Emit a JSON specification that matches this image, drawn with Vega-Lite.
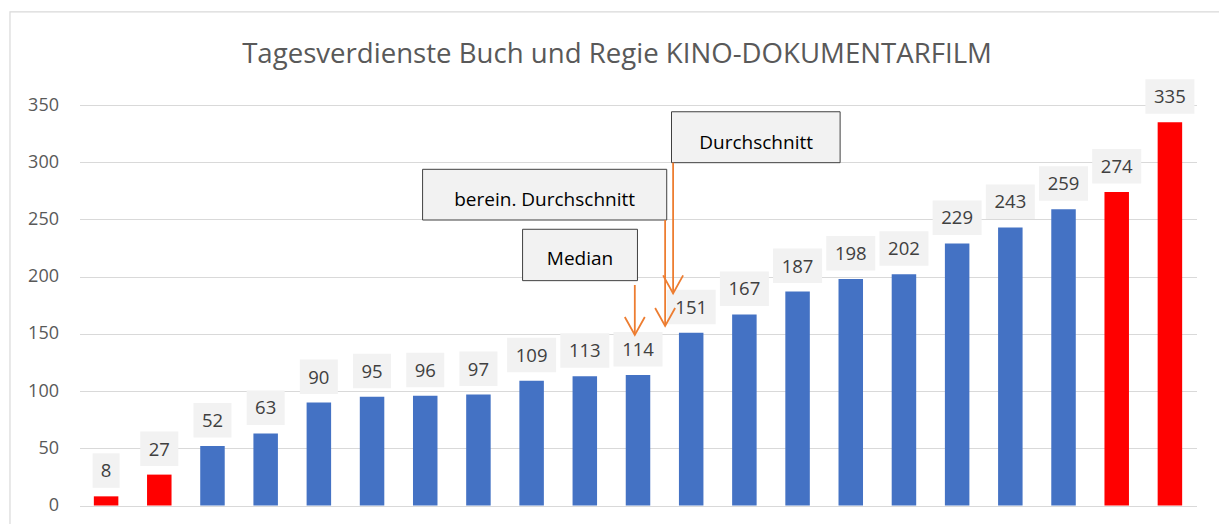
{
  "$schema": "https://vega.github.io/schema/vega-lite/v6.json",
  "width": 1117,
  "height": 400.5,
  "autosize": {"type": "none"},
  "padding": {"left": 79.5, "top": 105, "right": 22.5, "bottom": 18.5},
  "background": "white",
  "config": {"view": {"stroke": null}, "font": "Open Sans"},
  "title": {
    "text": "Tagesverdienste Buch und Regie KINO-DOKUMENTARFILM",
    "font": "Open Sans",
    "fontSize": 27.6,
    "fontWeight": "normal",
    "color": "#595959",
    "anchor": "middle",
    "dx": -21,
    "offset": -79,
    "baseline": "alphabetic"
  },
  "datasets": {
    "werte": [
      {"nr": 1, "tagesverdienst": 8, "gruppe": "Ausreißer"},
      {"nr": 2, "tagesverdienst": 27, "gruppe": "Ausreißer"},
      {"nr": 3, "tagesverdienst": 52, "gruppe": "regulär"},
      {"nr": 4, "tagesverdienst": 63, "gruppe": "regulär"},
      {"nr": 5, "tagesverdienst": 90, "gruppe": "regulär"},
      {"nr": 6, "tagesverdienst": 95, "gruppe": "regulär"},
      {"nr": 7, "tagesverdienst": 96, "gruppe": "regulär"},
      {"nr": 8, "tagesverdienst": 97, "gruppe": "regulär"},
      {"nr": 9, "tagesverdienst": 109, "gruppe": "regulär"},
      {"nr": 10, "tagesverdienst": 113, "gruppe": "regulär"},
      {"nr": 11, "tagesverdienst": 114, "gruppe": "regulär"},
      {"nr": 12, "tagesverdienst": 151, "gruppe": "regulär"},
      {"nr": 13, "tagesverdienst": 167, "gruppe": "regulär"},
      {"nr": 14, "tagesverdienst": 187, "gruppe": "regulär"},
      {"nr": 15, "tagesverdienst": 198, "gruppe": "regulär"},
      {"nr": 16, "tagesverdienst": 202, "gruppe": "regulär"},
      {"nr": 17, "tagesverdienst": 229, "gruppe": "regulär"},
      {"nr": 18, "tagesverdienst": 243, "gruppe": "regulär"},
      {"nr": 19, "tagesverdienst": 259, "gruppe": "regulär"},
      {"nr": 20, "tagesverdienst": 274, "gruppe": "Ausreißer"},
      {"nr": 21, "tagesverdienst": 335, "gruppe": "Ausreißer"}
    ],
    "hinweise": [
      {"label": "Durchschnitt", "bx0": 11.13, "bx1": 14.30, "byTop": 344.1, "byBot": 299.6, "tx": 12.72, "ty": 317.2, "ax": 11.16, "ay0": 299.6, "ay1": 185.4},
      {"label": "berein. Durchschnitt", "bx0": 6.45, "bx1": 11.04, "byTop": 293.8, "byBot": 249.5, "tx": 8.745, "ty": 267.0, "ax": 11.01, "ay0": 249.5, "ay1": 156.9},
      {"label": "Median", "bx0": 8.33, "bx1": 10.49, "byTop": 241.4, "byBot": 196.5, "tx": 9.41, "ty": 215.4, "ax": 10.44, "ay0": 192.7, "ay1": 149.0}
    ],
    "rahmen": [
      {"x0": -1.307, "x1": 30, "yTop": 431.3, "yBot": -100}
    ]
  },
  "resolve": {"scale": {"x": "independent", "y": "independent"}},
  "layer": [
    {
      "layer": [
        {
          "data": {"name": "werte"},
          "mark": {"type": "bar", "width": 24.5},
          "encoding": {
            "x": {"field": "nr", "type": "ordinal", "axis": null, "scale": {"paddingInner": 0.54, "paddingOuter": 0.27}},
            "y": {
              "field": "tagesverdienst", "type": "quantitative",
              "scale": {"domain": [0, 350], "nice": false},
              "axis": {
                "title": null, "values": [0, 50, 100, 150, 200, 250, 300, 350],
                "domain": false, "ticks": false, "grid": true, "gridColor": "#d9d9d9", "gridWidth": 1.2,
                "labelColor": "#595959", "labelFontSize": 18, "labelFont": "Open Sans", "labelPadding": 21
              }
            },
            "color": {"field": "gruppe", "type": "nominal", "legend": null,
              "scale": {"domain": ["regulär", "Ausreißer"], "range": ["#4472C4", "#FF0000"]}}
          }
        },
        {
          "data": {"name": "werte"},
          "mark": {"type": "bar", "fill": "#f2f2f2", "yOffset": -8.5, "y2Offset": -43},
          "encoding": {
            "x": {"field": "nr", "type": "ordinal", "axis": null, "scale": {"paddingInner": 0.54, "paddingOuter": 0.27}},
            "y": {"field": "tagesverdienst", "type": "quantitative", "scale": {"domain": [0, 350], "nice": false}},
            "y2": {"field": "tagesverdienst"},
            "size": {
              "condition": [
                {"test": "datum.tagesverdienst < 10", "value": 27},
                {"test": "datum.tagesverdienst < 100", "value": 38}
              ],
              "value": 49
            }
          }
        },
        {
          "data": {"name": "werte"},
          "mark": {"type": "text", "yOffset": -25, "baseline": "middle", "align": "center", "fontSize": 18.5, "font": "Open Sans", "color": "#404040"},
          "encoding": {
            "x": {"field": "nr", "type": "ordinal", "axis": null, "scale": {"paddingInner": 0.54, "paddingOuter": 0.27}},
            "y": {"field": "tagesverdienst", "type": "quantitative", "scale": {"domain": [0, 350], "nice": false}},
            "text": {"field": "tagesverdienst", "type": "quantitative"}
          }
        }
      ]
    },
    {
      "layer": [
        {
          "data": {"name": "rahmen"},
          "mark": {"type": "rect", "fill": null, "fillOpacity": 0, "stroke": "#d9d9d9", "strokeWidth": 1.2, "clip": false},
          "encoding": {
            "x": {"field": "x0", "type": "quantitative", "axis": null, "scale": {"domain": [0, 21], "nice": false, "zero": false}},
            "x2": {"field": "x1"},
            "y": {"field": "yTop", "type": "quantitative", "axis": null, "scale": {"domain": [0, 350], "nice": false}},
            "y2": {"field": "yBot"}
          }
        },
        {
          "data": {"name": "hinweise"},
          "mark": {"type": "rect", "fill": "#f2f2f2", "stroke": "#404040", "strokeWidth": 1},
          "encoding": {
            "x": {"field": "bx0", "type": "quantitative", "axis": null, "scale": {"domain": [0, 21], "nice": false, "zero": false}},
            "x2": {"field": "bx1"},
            "y": {"field": "byTop", "type": "quantitative", "axis": null, "scale": {"domain": [0, 350], "nice": false}},
            "y2": {"field": "byBot"}
          }
        },
        {
          "data": {"name": "hinweise"},
          "mark": {"type": "text", "baseline": "middle", "align": "center", "fontSize": 19, "font": "Open Sans", "color": "#000000"},
          "encoding": {
            "x": {"field": "tx", "type": "quantitative", "axis": null, "scale": {"domain": [0, 21], "nice": false, "zero": false}},
            "y": {"field": "ty", "type": "quantitative", "axis": null, "scale": {"domain": [0, 350], "nice": false}},
            "text": {"field": "label", "type": "nominal"}
          }
        },
        {
          "data": {"name": "hinweise"},
          "mark": {"type": "rule", "stroke": "#ED7D31", "strokeWidth": 1.8},
          "encoding": {
            "x": {"field": "ax", "type": "quantitative", "axis": null, "scale": {"domain": [0, 21], "nice": false, "zero": false}},
            "y": {"field": "ay0", "type": "quantitative", "axis": null, "scale": {"domain": [0, 350], "nice": false}},
            "y2": {"field": "ay1"}
          }
        },
        {
          "data": {"name": "hinweise"},
          "mark": {"type": "point", "shape": "M-1,-1.8L0,0L1,-1.8", "size": 400, "filled": false, "stroke": "#ED7D31", "strokeWidth": 1.8, "opacity": 1},
          "encoding": {
            "x": {"field": "ax", "type": "quantitative", "axis": null, "scale": {"domain": [0, 21], "nice": false, "zero": false}},
            "y": {"field": "ay1", "type": "quantitative", "axis": null, "scale": {"domain": [0, 350], "nice": false}}
          }
        }
      ]
    }
  ]
}
